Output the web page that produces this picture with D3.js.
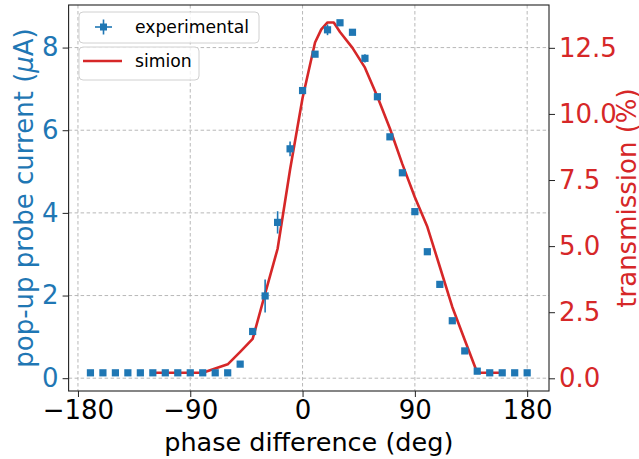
<!DOCTYPE html>
<html>
<head>
<meta charset="utf-8">
<script src="https://cdn.jsdelivr.net/npm/d3@7"></script>
<style>
  html, body { margin: 0; padding: 0; background: #fff; }
  svg { display: block; font-family: "DejaVu Sans", sans-serif; }
</style>
</head>
<body>
<svg id="chart" width="639" height="459"></svg>
<script>
// ---- data ----
const expPhase = [-170,-160,-150,-140,-130,-120,-110,-100,-90,-80,-70,-60,-50,-40,-30,-20,-10,0,10,20,30,40,50,60,70,80,90,100,110,120,130,140,150,160,170,180];
const expCurrent = [0.13,0.13,0.13,0.13,0.13,0.13,0.13,0.13,0.13,0.13,0.13,0.13,0.34,1.13,1.99,3.77,5.55,6.96,7.84,8.43,8.60,8.37,7.74,6.81,5.84,4.97,4.03,3.06,2.27,1.39,0.66,0.17,0.13,0.13,0.13,0.13];
const expErr = [0.03,0.03,0.03,0.03,0.03,0.03,0.03,0.03,0.03,0.03,0.03,0.03,0.04,0.06,0.40,0.27,0.18,0.08,0.05,0.13,0.05,0.04,0.10,0.06,0.04,0.07,0.04,0.05,0.05,0.04,0.03,0.03,0.03,0.03,0.03,0.03];
const expPhaseErr = [1,1,1,1,1,1,1,1,1,1,1,1,1,1,1,1,1,1,1,1,1,1,1,1,1,1,1,1,1,1,1,1,1,1,1,1];

const simPhase = [-120,-110,-100,-90,-80,-70,-60,-50,-40,-30,-20,-10,0,10,15,20,25,30,40,50,60,70,80,90,100,110,120,130,140,150,160];
const simTrans = [0.21,0.21,0.21,0.21,0.21,0.37,0.53,1.0,1.49,3.2,4.9,7.9,10.6,12.7,13.2,13.46,13.46,13.1,12.5,11.75,10.65,9.45,8.1,6.85,5.73,4.22,2.7,1.45,0.21,0.21,0.21];

const xTicks = [-180,-90,0,90,180];
const yLeftTicks = [0,2,4,6,8];
const yRightTicks = [0,2.5,5,7.5,10,12.5];

// ---- layout ----
const BLUE = "#1f77b4", RED = "#d62728";
const L = 68.6, R = 549, T = 5, B = 391;
const svg = d3.select("#chart");

const x = d3.scaleLinear().domain([-187.5, 197.5]).range([L, R]);
const yL = d3.scaleLinear().domain([-0.31, 9.03]).range([B, T]);
const yR = d3.scaleLinear().domain([-0.48, 14.12]).range([B, T]);

// grid
const grid = svg.append("g").attr("stroke", "#b0b0b0").attr("stroke-width", 0.9)
  .attr("stroke-dasharray", "3.5,2.5");
xTicks.forEach(t => grid.append("line").attr("x1", x(t)).attr("x2", x(t)).attr("y1", T).attr("y2", B));
yLeftTicks.forEach(t => grid.append("line").attr("x1", L).attr("x2", R).attr("y1", yL(t)).attr("y2", yL(t)));

// axes
const fs = 26;
const gx = svg.append("g").attr("transform", `translate(0,${B})`)
  .call(d3.axisBottom(x).tickValues(xTicks).tickSize(6).tickPadding(4).tickFormat(d => d < 0 ? "\u2212" + Math.abs(d) : d));
const gyl = svg.append("g").attr("transform", `translate(${L},0)`)
  .call(d3.axisLeft(yL).tickValues(yLeftTicks).tickSize(6).tickPadding(4));
const gyr = svg.append("g").attr("transform", `translate(${R},0)`)
  .call(d3.axisRight(yR).tickValues(yRightTicks).tickSize(6).tickPadding(4).tickFormat(d3.format(".1f")));
[gx, gyl, gyr].forEach(g => {
  g.select(".domain").remove();
  g.selectAll("text").attr("font-size", fs).attr("font-family", "DejaVu Sans");
  g.selectAll("line").attr("stroke", "#222").attr("stroke-width", 1);
});
gx.selectAll("text").attr("fill", "#000");
gyl.selectAll("text").attr("fill", BLUE);
gyr.selectAll("text").attr("fill", RED);

// simion line
svg.append("path")
  .datum(simPhase.map((p, i) => [p, simTrans[i]]))
  .attr("fill", "none").attr("stroke", RED).attr("stroke-width", 2.6).attr("stroke-linejoin", "round")
  .attr("d", d3.line().x(d => x(d[0])).y(d => yR(d[1])));

// experimental points with error bars
const pts = svg.append("g");
expPhase.forEach((p, i) => {
  const cx = x(p), cy = yL(expCurrent[i]);
  pts.append("line").attr("x1", cx).attr("x2", cx)
    .attr("y1", yL(expCurrent[i] - expErr[i])).attr("y2", yL(expCurrent[i] + expErr[i]))
    .attr("stroke", BLUE).attr("stroke-width", 1.6);
  pts.append("line").attr("x1", x(p - expPhaseErr[i])).attr("x2", x(p + expPhaseErr[i]))
    .attr("y1", cy).attr("y2", cy).attr("stroke", BLUE).attr("stroke-width", 1.6);
  pts.append("rect").attr("x", cx - 3.6).attr("y", cy - 3.6).attr("width", 7.2).attr("height", 7.2)
    .attr("fill", BLUE);
});

// frame
svg.append("rect").attr("x", L).attr("y", T).attr("width", R - L).attr("height", B - T)
  .attr("fill", "none").attr("stroke", "#222").attr("stroke-width", 1.1);

// axis labels
svg.append("text").attr("x", (L + R) / 2).attr("y", 451).attr("text-anchor", "middle")
  .attr("font-size", 25.5).attr("fill", "#000").text("phase difference (deg)");
svg.append("text").attr("transform", `translate(33,${(T + B) / 2}) rotate(-90)`).attr("text-anchor", "middle")
  .attr("font-size", 26).attr("fill", BLUE)
  .html('pop-up probe current (<tspan font-style="italic">μ</tspan>A)');
svg.append("text").attr("transform", `translate(636,${(T + B) / 2}) rotate(-90)`).attr("text-anchor", "middle")
  .attr("font-size", 26).attr("fill", RED).text("transmission (%)");

// legends
const lg = svg.append("g");
lg.append("rect").attr("x", 79).attr("y", 12).attr("width", 180).attr("height", 31).attr("rx", 4)
  .attr("fill", "#fff").attr("fill-opacity", 0.8).attr("stroke", "#d0d0d0");
lg.append("line").attr("x1", 95).attr("x2", 112).attr("y1", 27).attr("y2", 27).attr("stroke", BLUE).attr("stroke-width", 1.6);
lg.append("line").attr("x1", 103.5).attr("x2", 103.5).attr("y1", 19.5).attr("y2", 34.5).attr("stroke", BLUE).attr("stroke-width", 1.6);
lg.append("rect").attr("x", 100).attr("y", 23.5).attr("width", 7).attr("height", 7).attr("fill", BLUE);
lg.append("text").attr("x", 135).attr("y", 33).attr("font-size", 17.2).attr("fill", "#000").text("experimental");

lg.append("rect").attr("x", 79).attr("y", 47).attr("width", 120).attr("height", 33).attr("rx", 4)
  .attr("fill", "#fff").attr("fill-opacity", 0.8).attr("stroke", "#d0d0d0");
lg.append("line").attr("x1", 83).attr("x2", 122).attr("y1", 61).attr("y2", 61).attr("stroke", RED).attr("stroke-width", 2.6);
lg.append("text").attr("x", 135).attr("y", 67).attr("font-size", 17.2).attr("fill", "#000").text("simion");
</script>
</body>
</html>
